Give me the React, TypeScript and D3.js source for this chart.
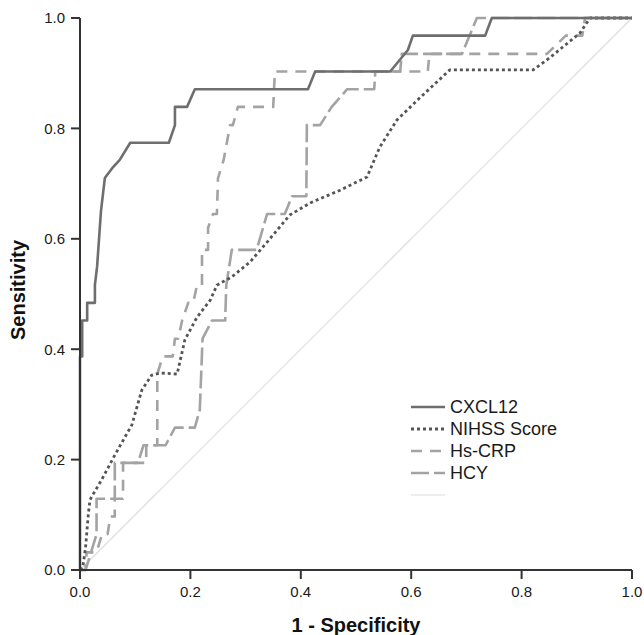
import React from "react";
import * as d3 from "d3";

type P = [number, number];

const xTicks = [0, 0.2, 0.4, 0.6, 0.8, 1.0];
const yTicks = [0, 0.2, 0.4, 0.6, 0.8, 1.0];

const cxcl12: P[] = [
  [0, 0], [0, 0.387], [0.004, 0.387], [0.004, 0.452], [0.013, 0.452], [0.013, 0.484],
  [0.027, 0.484], [0.027, 0.516], [0.031, 0.55], [0.038, 0.65], [0.045, 0.71],
  [0.06, 0.73], [0.072, 0.743], [0.091, 0.774], [0.161, 0.774], [0.172, 0.806],
  [0.172, 0.839], [0.194, 0.839], [0.208, 0.871], [0.413, 0.871], [0.426, 0.903],
  [0.562, 0.903], [0.594, 0.942], [0.603, 0.968], [0.734, 0.968], [0.746, 1], [1, 1],
];

const nihss: P[] = [
  [0, 0], [0.005, 0.005], [0.01, 0.04], [0.015, 0.1], [0.018, 0.127], [0.04, 0.165],
  [0.063, 0.208], [0.094, 0.263], [0.112, 0.326], [0.13, 0.353], [0.145, 0.357],
  [0.176, 0.355], [0.19, 0.417], [0.212, 0.458], [0.236, 0.489], [0.248, 0.516],
  [0.275, 0.531], [0.308, 0.558], [0.339, 0.594], [0.38, 0.643], [0.417, 0.665],
  [0.471, 0.688], [0.52, 0.712], [0.543, 0.766], [0.574, 0.815], [0.611, 0.851],
  [0.67, 0.906], [0.821, 0.906], [0.851, 0.928], [0.906, 0.973], [0.924, 1], [1, 1],
];

const hscrp: P[] = [
  [0, 0], [0.01, 0], [0.012, 0.032], [0.03, 0.032], [0.04, 0.065], [0.05, 0.065],
  [0.055, 0.097], [0.063, 0.097], [0.063, 0.129], [0.078, 0.129], [0.078, 0.194],
  [0.12, 0.194], [0.12, 0.226], [0.14, 0.226], [0.14, 0.355], [0.15, 0.387],
  [0.168, 0.387], [0.172, 0.419], [0.178, 0.419], [0.185, 0.452], [0.196, 0.484],
  [0.205, 0.484], [0.212, 0.516], [0.221, 0.516], [0.221, 0.58], [0.232, 0.58],
  [0.232, 0.62], [0.241, 0.645], [0.248, 0.645], [0.25, 0.71], [0.26, 0.742],
  [0.272, 0.806], [0.277, 0.806], [0.286, 0.839], [0.35, 0.839], [0.353, 0.903],
  [0.63, 0.903], [0.633, 0.935], [0.846, 0.935], [0.88, 0.968], [0.91, 0.968],
  [0.915, 1], [1, 1],
];

const hcy: P[] = [
  [0, 0], [0.01, 0], [0.02, 0.032], [0.03, 0.065], [0.03, 0.129], [0.063, 0.129],
  [0.063, 0.194], [0.105, 0.194], [0.115, 0.226], [0.155, 0.226], [0.172, 0.258],
  [0.208, 0.258], [0.217, 0.29], [0.222, 0.419], [0.239, 0.452], [0.263, 0.452],
  [0.265, 0.516], [0.275, 0.58], [0.32, 0.58], [0.339, 0.645], [0.371, 0.645],
  [0.384, 0.677], [0.41, 0.677], [0.411, 0.806], [0.435, 0.806], [0.456, 0.839],
  [0.484, 0.871], [0.533, 0.871], [0.535, 0.903], [0.58, 0.903], [0.583, 0.935],
  [0.692, 0.935], [0.719, 1], [1, 1],
];

const reference: P[] = [[0, 0], [1, 1]];

const seriesNames = ["CXCL12", "NIHSS Score", "Hs-CRP", "HCY", ""];

const styles = [
  { color: "#6e6e6e", width: 2.6, dash: "" },
  { color: "#555555", width: 2.8, dash: "3,3" },
  { color: "#a3a3a3", width: 2.6, dash: "11,8" },
  { color: "#a3a3a3", width: 2.6, dash: "18,5" },
  { color: "#dcdcdc", width: 1.2, dash: "" },
];

export default function App() {
  const W = 644, H = 635;
  const x = d3.scaleLinear().domain([0, 1]).range([80, 632]);
  const y = d3.scaleLinear().domain([0, 1]).range([570, 18]);
  const line = d3.line<P>().x((d) => x(d[0])).y((d) => y(d[1]));
  const data = [cxcl12, nihss, hscrp, hcy, reference];
  const drawOrder = [4, 3, 2, 1, 0];
  const font = "'Liberation Sans', Arial, sans-serif";
  const legendX = 411, legendY0 = 407, legendDy = 22;

  return (
    <div style={{ position: "absolute", left: 0, top: 0 }}>
      <svg width={W} height={H} style={{ display: "block", background: "#fff" }}>
        {drawOrder.map((i) => (
          <path
            key={i}
            d={line(data[i]) || ""}
            fill="none"
            stroke={styles[i].color}
            strokeWidth={styles[i].width}
            strokeDasharray={styles[i].dash || undefined}
            strokeLinejoin="round"
          />
        ))}
        {/* axes */}
        <line x1={x(0)} x2={x(0)} y1={y(0)} y2={y(1)} stroke="#333" strokeWidth={2} />
        <line x1={x(0)} x2={x(1)} y1={y(0)} y2={y(0)} stroke="#333" strokeWidth={2} />
        {yTicks.map((t) => (
          <g key={"y" + t}>
            <line x1={x(0) - 9} x2={x(0)} y1={y(t)} y2={y(t)} stroke="#333" strokeWidth={2} />
            <text x={x(0) - 15} y={y(t)} dy="0.36em" textAnchor="end" fontFamily={font} fontSize={15} fill="#1a1a1a">
              {t.toFixed(1)}
            </text>
          </g>
        ))}
        {xTicks.map((t) => (
          <g key={"x" + t}>
            <line x1={x(t)} x2={x(t)} y1={y(0)} y2={y(0) + 9} stroke="#333" strokeWidth={2} />
            <text x={x(t)} y={597} textAnchor="middle" fontFamily={font} fontSize={15} fill="#1a1a1a">
              {t.toFixed(1)}
            </text>
          </g>
        ))}
        <text x={356} y={632} textAnchor="middle" fontFamily={font} fontSize={20} fontWeight="bold" fill="#111">
          1 - Specificity
        </text>
        <text
          transform={`translate(25, ${(y(0) + y(1)) / 2 - 4}) rotate(-90)`}
          textAnchor="middle"
          fontFamily={font}
          fontSize={20}
          fontWeight="bold"
          fill="#111"
        >
          Sensitivity
        </text>
        {/* legend */}
        {seriesNames.map((name, i) => (
          <g key={"l" + i}>
            <line
              x1={legendX}
              x2={legendX + 34}
              y1={legendY0 + i * legendDy}
              y2={legendY0 + i * legendDy}
              stroke={styles[i].color}
              strokeWidth={styles[i].width}
              strokeDasharray={styles[i].dash || undefined}
            />
            {name && (
              <text x={legendX + 39} y={legendY0 + i * legendDy} dy="0.36em" fontFamily={font} fontSize={18} fill="#1a1a1a">
                {name}
              </text>
            )}
          </g>
        ))}
      </svg>
    </div>
  );
}
